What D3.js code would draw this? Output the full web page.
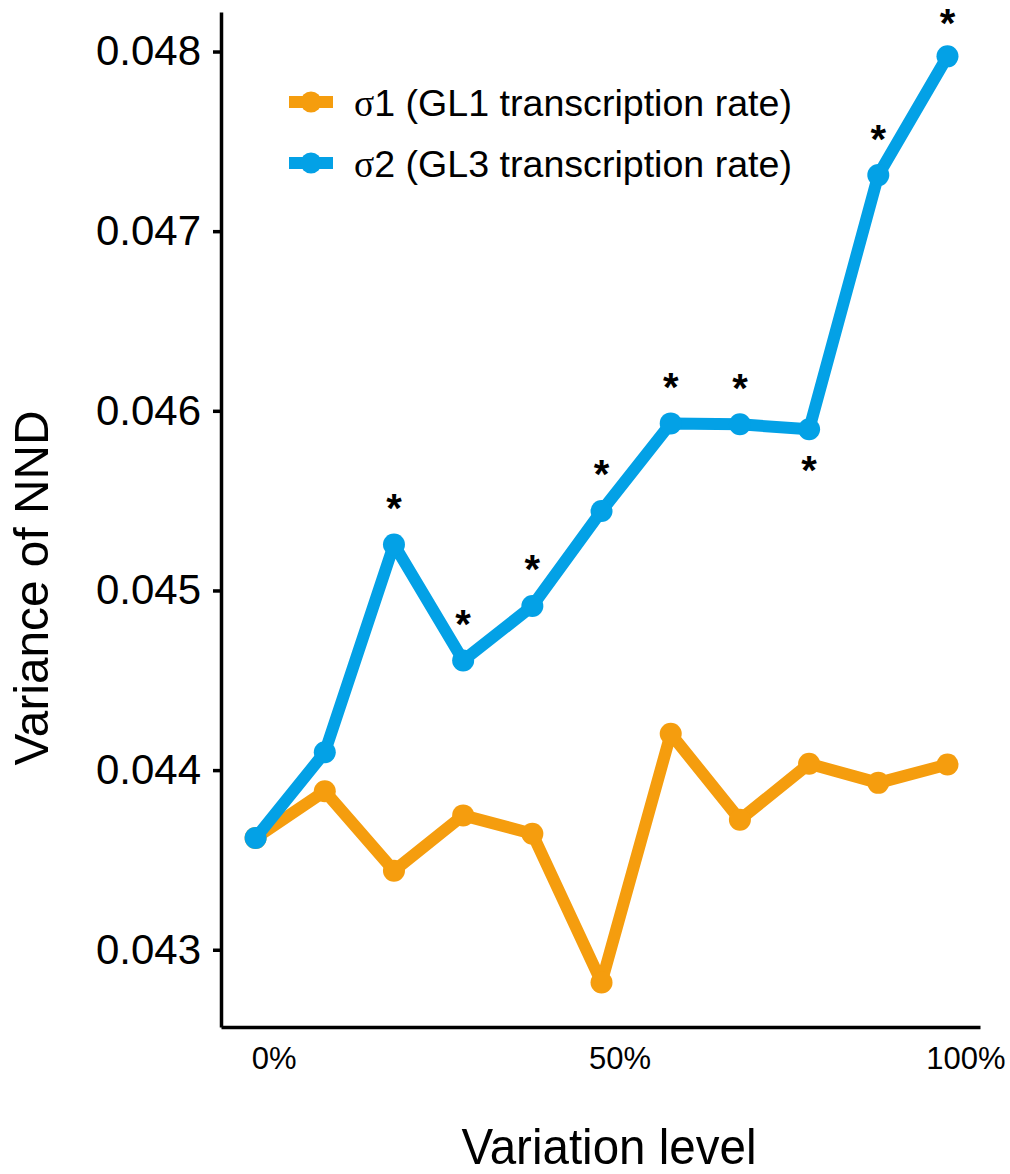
<!DOCTYPE html>
<html>
<head>
<meta charset="utf-8">
<script src="https://cdn.jsdelivr.net/npm/d3@7"></script>
<style>
  html, body { margin: 0; padding: 0; background: #fff; }
  svg { display: block; }
  text { font-family: "Liberation Sans", Arial, Helvetica, sans-serif; fill: #000; }
</style>
</head>
<body>
<svg id="chart" width="1010" height="1174"></svg>
<script>
// ---- data ----
const levels = [0, 10, 20, 30, 40, 50, 60, 70, 80, 90, 100];
const sigma1 = [0.043622, 0.043882, 0.043440, 0.043748, 0.043646, 0.042818, 0.044202, 0.043724, 0.044035, 0.043929, 0.044031];
const sigma2 = [0.043622, 0.044099, 0.045256, 0.044610, 0.044913, 0.045442, 0.045930, 0.045925, 0.045897, 0.047312, 0.047973];
const significance = ["", "", "above", "above", "above", "above", "above", "above", "below", "above", "above"];
const yTicks = [0.043, 0.044, 0.045, 0.046, 0.047, 0.048];
const xTicks = [0, 50, 100];
const seriesNames = ["σ1 (GL1 transcription rate)", "σ2 (GL3 transcription rate)"];
const seriesColors = ["#F59D0E", "#03A1E6"];

// ---- scales ----
const svg = d3.select("#chart");
const x = d3.scaleLinear().domain([-5, 104.7]).range([221, 980]);
const y = d3.scaleLinear().domain([0.04257, 0.04822]).range([1027, 12]);

// ---- axes ----
const yAxis = svg.append("g")
  .attr("transform", `translate(${x(-5)},0)`)
  .call(d3.axisLeft(y).tickValues(yTicks).tickFormat(d3.format(".3f")).tickSize(8).tickSizeOuter(0).tickPadding(12));
yAxis.select(".domain").attr("stroke", "#000").attr("stroke-width", 3.5);
yAxis.selectAll(".tick line").attr("stroke", "#000").attr("stroke-width", 3.5);
yAxis.selectAll(".tick text")
  .attr("font-family", "'Liberation Sans', Arial, sans-serif")
  .attr("font-size", 42).attr("fill", "#000");

const xAxis = svg.append("g")
  .attr("transform", `translate(0,${y(0.04257)})`)
  .call(d3.axisBottom(x).tickValues(xTicks).tickFormat(d => d + "%").tickSize(0).tickSizeOuter(0).tickPadding(20));
xAxis.select(".domain").attr("stroke", "#000").attr("stroke-width", 3.5);
xAxis.selectAll(".tick text")
  .attr("font-family", "'Liberation Sans', Arial, sans-serif")
  .attr("font-size", 31).attr("fill", "#000").attr("dx", 18);

// axis titles
svg.append("text")
  .attr("x", 609).attr("y", 1164)
  .attr("text-anchor", "middle")
  .attr("font-size", 50)
  .attr("textLength", 295).attr("lengthAdjust", "spacingAndGlyphs")
  .text("Variation level");

svg.append("text")
  .attr("transform", "translate(48,588) rotate(-90)")
  .attr("text-anchor", "middle")
  .attr("font-size", 49)
  .attr("textLength", 355).attr("lengthAdjust", "spacingAndGlyphs")
  .text("Variance of NND");

// ---- lines ----
const line = d3.line().x((d, i) => x(levels[i])).y(d => y(d));
[sigma1, sigma2].forEach((s, k) => {
  const g = svg.append("g");
  g.append("path")
    .datum(s)
    .attr("d", line)
    .attr("fill", "none")
    .attr("stroke", seriesColors[k])
    .attr("stroke-width", 12)
    .attr("stroke-linejoin", "round");
  g.selectAll("circle")
    .data(s)
    .join("circle")
    .attr("cx", (d, i) => x(levels[i]))
    .attr("cy", d => y(d))
    .attr("r", 11)
    .attr("fill", seriesColors[k]);
});

// ---- significance stars ----
const starSize = 40;
svg.append("g").selectAll("text")
  .data(sigma2.map((v, i) => ({ v, i, s: significance[i] })).filter(d => d.s))
  .join("text")
  .attr("x", d => x(levels[d.i]))
  .attr("y", d => {
    const c = d.s === "above" ? Math.max(y(d.v) - 45, 15) : y(d.v) + 32;
    return c + starSize * 0.56;
  })
  .attr("text-anchor", "middle")
  .attr("font-size", starSize)
  .attr("font-weight", "bold")
  .text("*");

// ---- legend ----
const legend = svg.append("g");
seriesNames.forEach((name, k) => {
  const ly = 102 + k * 61;
  legend.append("rect")
    .attr("x", 289).attr("y", ly - 6).attr("width", 44).attr("height", 12)
    .attr("fill", seriesColors[k]);
  legend.append("circle")
    .attr("cx", 311).attr("cy", ly).attr("r", 10.5)
    .attr("fill", seriesColors[k]);
  const t = legend.append("text")
    .attr("x", 354).attr("y", ly + 14)
    .attr("font-size", 37)
    .attr("textLength", 438).attr("lengthAdjust", "spacingAndGlyphs");
  t.append("tspan").attr("font-family", "'Liberation Serif', 'Times New Roman', serif").text(name.slice(0, 1));
  t.append("tspan").text(name.slice(1));
});
</script>
</body>
</html>
